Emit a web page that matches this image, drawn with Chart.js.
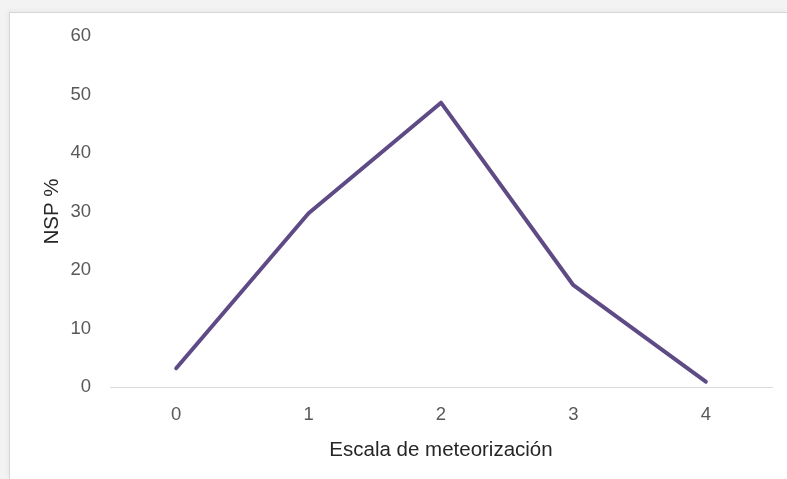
<!DOCTYPE html>
<html>
<head>
<meta charset="utf-8">
<script src="https://cdn.jsdelivr.net/npm/chart.js@4/dist/chart.umd.min.js"></script>
<style>
  html, body { margin: 0; padding: 0; }
  body { width: 787px; height: 479px; background: #f3f3f3; position: relative; overflow: hidden; }
  #frame {
    position: absolute; left: 9px; top: 12px; width: 778px; height: 467px;
    background: #fff; border-top: 1px solid #d6d6d6; border-left: 1px solid #d6d6d6;
    box-shadow: -2px -2px 4px rgba(0,0,0,0.04);
  }
  #chart { display: block; }
</style>
</head>
<body>
<div id="frame"><canvas id="chart" width="777" height="466"></canvas></div>
<script>
// weathering scale categories and NSP share (%)
const categories = ["0", "1", "2", "3", "4"];
const nspValues = [3.2, 29.7, 48.6, 17.4, 0.9];
const yTicks = [0, 10, 20, 30, 40, 50, 60];

const lineColour = "#5e4b86";
const fontFamily = "'Liberation Sans', Arial, sans-serif";

new Chart(document.getElementById("chart"), {
  type: "line",
  data: {
    labels: categories,
    datasets: [{
      label: "NSP %",
      data: nspValues,
      borderColor: lineColour,
      borderWidth: 4,
      borderCapStyle: "round",
      borderJoinStyle: "round",
      pointRadius: 0,
      tension: 0,
      fill: false
    }]
  },
  options: {
    responsive: false,
    animation: false,
    devicePixelRatio: 1,
    layout: { padding: { left: 26, top: 23, right: 15, bottom: 0 } },
    plugins: {
      legend: { display: false },
      tooltip: { enabled: false }
    },
    scales: {
      x: {
        offset: true,
        grid: { display: false },
        border: { display: true, color: "#d9d9d9", width: 1 },
        ticks: {
          color: "#595959",
          padding: 9,
          font: { family: fontFamily, size: 18.5 }
        },
        title: {
          display: true,
          text: "Escala de meteorización",
          color: "#262626",
          padding: { top: 4, bottom: 16 },
          font: { family: fontFamily, size: 20.5 }
        },
        afterFit: axis => { axis.height = 92; }
      },
      y: {
        min: 0,
        max: 60,
        afterBuildTicks: axis => { axis.ticks = yTicks.map(v => ({ value: v })); },
        grid: { display: false },
        border: { display: false },
        ticks: {
          color: "#595959",
          padding: 11,
          font: { family: fontFamily, size: 18.5 }
        },
        title: {
          display: true,
          text: "NSP %",
          color: "#262626",
          padding: { top: 4, bottom: 4 },
          font: { family: fontFamily, size: 20.5 }
        },
        afterFit: axis => {
          axis.width = 74;
          axis.paddingTop = 0;
          axis.paddingBottom = 0;
        }
      }
    }
  }
});
</script>
</body>
</html>
